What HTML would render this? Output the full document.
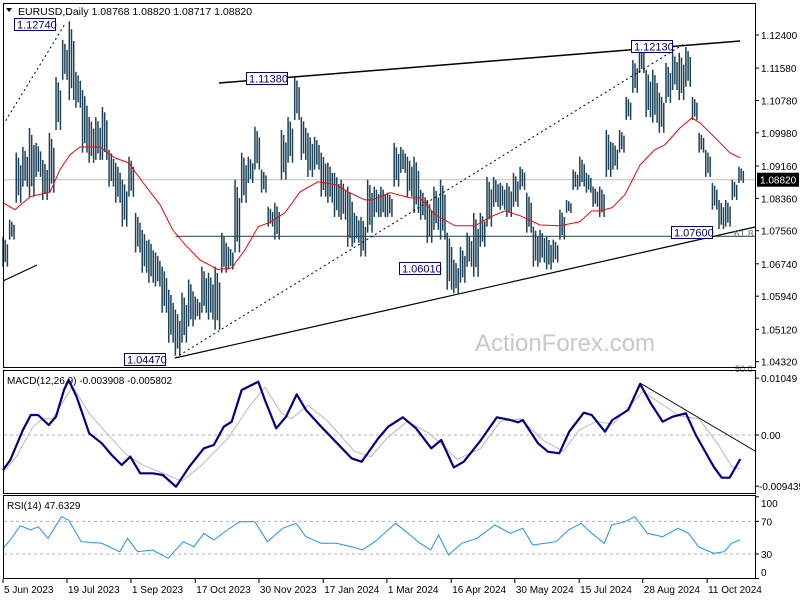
<!DOCTYPE html>
<html><head><meta charset="utf-8"><style>
html,body{margin:0;padding:0;background:#fff;}
svg{display:block;font-family:"Liberation Sans",sans-serif;}
</style></head><body>
<svg id="c" width="800" height="600" viewBox="0 0 800 600" xmlns="http://www.w3.org/2000/svg">
<rect x="0" y="0" width="800" height="600" fill="#fff"/>
<g id="main"></g>
<g id="macd"></g>
<g id="rsi"></g>
<g id="axes"></g>
</svg>
<script>
const highs=[1.0741,1.0783,1.0949,1.0963,1.1010,1.0973,1.0931,1.0998,1.1136,1.1228,1.1274,1.1149,1.1104,1.1037,1.1037,1.1062,1.0956,1.0924,1.0882,1.0939,1.0800,1.0758,1.0734,1.0702,1.0667,1.0610,1.0561,1.0603,1.0635,1.0593,1.0667,1.0652,1.0667,1.0751,1.0716,1.0882,1.0949,1.0939,1.1013,1.0907,1.0815,1.0825,1.1005,1.1037,1.1138,1.1037,1.0998,1.0988,1.0949,1.0924,1.0899,1.0882,1.0865,1.0800,1.0790,1.0882,1.0865,1.0865,1.0850,1.0973,1.0963,1.0939,1.0939,1.0857,1.0832,1.0865,1.0882,1.0751,1.0684,1.0716,1.0751,1.0800,1.0800,1.0889,1.0889,1.0874,1.0874,1.0899,1.0914,1.0850,1.0766,1.0758,1.0741,1.0734,1.0808,1.0832,1.0907,1.0939,1.0899,1.0865,1.0865,1.1005,1.0973,1.1005,1.1087,1.1178,1.1213,1.1154,1.1154,1.1097,1.1171,1.1196,1.1196,1.1210,1.1087,1.0998,1.0956,1.0874,1.0832,1.0832,1.0882,1.0914];
const lows=[1.0667,1.0734,1.0825,1.0865,1.0840,1.0889,1.0832,1.0850,1.1005,1.1129,1.1079,1.1060,1.0949,1.0924,1.0931,1.0931,1.0865,1.0825,1.0766,1.0840,1.0702,1.0652,1.0627,1.0618,1.0553,1.0479,1.0447,1.0479,1.0519,1.0536,1.0553,1.0536,1.0511,1.0652,1.0660,1.0702,1.0825,1.0874,1.0907,1.0850,1.0766,1.0734,1.0882,1.0924,1.1030,1.0931,1.0889,1.0907,1.0840,1.0825,1.0790,1.0783,1.0716,1.0726,1.0692,1.0751,1.0790,1.0790,1.0790,1.0865,1.0899,1.0840,1.0800,1.0783,1.0726,1.0758,1.0734,1.0610,1.0601,1.0627,1.0667,1.0642,1.0716,1.0766,1.0815,1.0808,1.0790,1.0815,1.0857,1.0751,1.0667,1.0677,1.0660,1.0677,1.0734,1.0800,1.0857,1.0865,1.0850,1.0815,1.0790,1.0889,1.0907,1.0949,1.1030,1.1097,1.1146,1.1037,1.1023,1.0998,1.1072,1.1104,1.1079,1.1112,1.1030,1.0949,1.0889,1.0808,1.0760,1.0766,1.0832,1.0874];
const maIdx=[0,1.8,4.1,7.1,8.6,10.1,11.6,14.6,16.9,18.9,21.4,23.7,25.6,27.5,29.7,32.4,34.5,36.5,38.5,40.3,42.5,44.8,47.5,50.1,52.3,54.6,55.7,58.4,61.4,62.9,65.2,68.2,71.2,73.5,75.7,78,81,84,87,88.8,90,91.9,93.8,96.1,98.3,99.8,102.1,103.9,105.1,107.4,109.6,111.2];
const maVal=[1.0825,1.0808,1.0840,1.0852,1.0907,1.0944,1.0963,1.0963,1.0936,1.0924,1.0869,1.0820,1.0758,1.0721,1.0684,1.0660,1.0664,1.0709,1.0766,1.0777,1.0800,1.0852,1.0877,1.0870,1.0850,1.0832,1.0832,1.0850,1.0837,1.0837,1.0795,1.0768,1.0768,1.0790,1.0805,1.0793,1.0770,1.0768,1.0778,1.0805,1.0805,1.0813,1.0845,1.0919,1.0956,1.0968,1.1010,1.1035,1.1023,1.0986,1.0949,1.0936];
const macdIdx=[0,1.1,3,4.2,5.3,6.9,8,9.2,9.9,11.1,13,14.9,16.4,17.9,19.2,20.7,22.6,24.1,26.1,28.1,30.3,31.8,33.3,34.5,36,38.5,39.5,41.2,42.7,44.3,45.7,48,50.4,52.6,54.1,56.6,58.1,60.3,62.3,64.6,66.1,68,69.5,71.9,74.5,76.5,77.7,78.4,80.7,82.2,83.9,85.4,87.6,88.8,90.8,91.9,94.3,96.1,97.7,99.5,101,103,104.5,106.2,107.2,108.4,109.6,111.2];
const macdVal=[-0.00646,-0.00461,0.00092,0.00369,0.00369,0.00185,0.00338,0.00830,0.01015,0.00707,0.00031,-0.00154,-0.00369,-0.00554,-0.00400,-0.00707,-0.00707,-0.00738,-0.00953,-0.00584,-0.00246,-0.00185,0.00154,0.00246,0.00830,0.00984,0.00646,0.00123,0.00338,0.00750,0.00461,0.00154,-0.00154,-0.00431,-0.00492,-0.00061,0.00154,0.00326,0.00123,-0.00246,-0.00092,-0.00597,-0.00492,-0.00123,0.00326,0.00277,0.00234,0.00277,-0.00154,-0.00308,-0.00338,0.00061,0.00412,0.00369,0.00061,0.00277,0.00461,0.00941,0.00584,0.00246,0.00338,0.00400,0.00000,-0.00369,-0.00584,-0.00787,-0.00787,-0.00443];
const sigIdx=[0,2,4.5,6,7.5,10.5,13,15.5,18.5,21,25,27,30,34,37,39.5,42,43.5,46,49,53,55.5,58,61,64,66,68.5,72,75,78,81.5,84.5,87,89.5,92,96.5,99,102,105,108,110,111.2];
const sigVal=[-0.0070,-0.0040,0.0015,0.0030,0.0030,0.0090,0.0040,0.0005,-0.0035,-0.0055,-0.0075,-0.0085,-0.0055,-0.0005,0.0050,0.0088,0.0040,0.0030,0.0055,0.0025,-0.0030,-0.0040,-0.0005,0.0025,0.0005,-0.0015,-0.0045,-0.0025,0.0025,0.0030,-0.0010,-0.0030,0.0010,0.0025,0.0020,0.0080,0.0060,0.0035,0.0030,-0.0020,-0.0060,-0.0062];
const rsiIdx=[0,1.1,2.6,4.2,5.3,6.8,8.8,9.9,11.8,14.9,17.6,18.8,20.3,22.6,24.9,27.2,28.8,30.3,31.8,33.8,35.7,38,39.9,42.2,44.2,45.7,48,50.3,52.6,54.2,56.1,59.2,61.1,62.6,64.5,65.7,67.2,69.2,71.5,74.2,76.5,78.4,79.9,81.8,83.4,85.3,87.2,88.8,90.7,91.8,93.8,95.3,97.2,99.5,101.8,103.4,104.9,107.2,108.8,109.9,111.1];
const rsiVal=[37.0,47.1,64.6,59.4,63.4,49.2,75.7,71.6,45.1,43.1,32.8,49.2,32.8,34.9,24.7,45.1,38.9,55.3,47.1,59.4,69.5,69.5,45.1,61.5,67.6,51.2,43.1,43.1,38.9,34.9,45.1,67.6,55.3,45.1,34.9,53.3,28.8,43.1,49.2,65.5,55.3,61.5,41.0,43.1,45.1,59.4,67.6,55.3,43.1,65.5,69.5,75.7,55.3,51.2,61.5,55.3,38.9,30.8,32.8,43.1,47.1];
const priceTicks=[1.12400,1.11580,1.10780,1.09980,1.09160,1.08360,1.07560,1.06740,1.05940,1.05120,1.04320];
const dateIdx=[0,9.65,19.3,29.0,38.6,48.3,57.9,67.6,77.2,86.9,96.5,106.2];
const dateLabels=["5 Jun 2023","19 Jul 2023","1 Sep 2023","17 Oct 2023","30 Nov 2023","17 Jan 2024","1 Mar 2024","16 Apr 2024","30 May 2024","15 Jul 2024","28 Aug 2024","11 Oct 2024"];
const rsiTicks=[100,70,30,0];

const NS="http://www.w3.org/2000/svg";
const X=i=>3+i*6.63;
const PY=p=>35+(1.124-p)*4042.7;
const MY=v=>435-v*5420;
const RY=r=>554-(r-30)*0.817;
function mk(parent,tag,attrs,txt){const e=document.createElementNS(NS,tag);for(const k in attrs)e.setAttribute(k,attrs[k]);if(txt!==undefined)e.textContent=txt;document.getElementById(parent).appendChild(e);return e;}
function poly(xs,ys,fx,fy){return xs.map((v,i)=>X(v).toFixed(1)+','+fy(ys[i]).toFixed(1)).join(' ');}

let f=mk('axes','rect',{x:3.5,y:3.5,width:752,height:364,fill:'none',stroke:'#000'});


f=mk('axes','rect',{x:3.5,y:370.5,width:752,height:123,fill:'none',stroke:'#000'});


f=mk('axes','rect',{x:3.5,y:495.5,width:752,height:83,fill:'none',stroke:'#000'});



let l=mk('main','line',{x1:4,x2:755,y1:PY(1.0882),y2:PY(1.0882),stroke:'#c0c0c0'});


l=mk('main','line',{x1:X(26),x2:755,y1:PY(1.0742),y2:PY(1.0742),stroke:'#3d5555','stroke-width':1.2});



highs.forEach((h,i)=>{
  const yh=PY(h), yl=PY(lows[i]), d=yl-yh;
  const b=mk('main','line',{x1:X(i),x2:X(i),y1:yh,y2:yl,stroke:'#1b4258','stroke-width':1.5});
  
  
  const b2=mk('main','line',{x1:X(i)+2.2,x2:X(i)+2.2,y1:yh+d*0.1,y2:yl-d*0.15,stroke:'#1b4258','stroke-width':1.5});
  
  
  const b3=mk('main','line',{x1:X(i)+4.4,x2:X(i)+4.4,y1:yh+d*0.25,y2:yl,stroke:'#1b4258','stroke-width':1.5});
  
  
});
l=mk('main','polyline',{points:poly(maIdx,maVal,X,PY),fill:'none',stroke:'#ff0000','stroke-width':1});



const tl=[[219,83,740,41,'',1.5,'resistance-trendline'],[3,281,37,265,'',1.2,'left-support-segment'],[175,358,755,227,'',1.2,'support-trendline'],[3,125,65,24,'2,3',1,'dotted-trendline-left'],[175,358,684,44,'2,3',1,'dotted-trendline']];
tl.forEach(t=>{const e=mk('main','line',{x1:t[0],y1:t[1],x2:t[2],y2:t[3],stroke:'#000','stroke-width':t[5],'stroke-dasharray':t[4]});

});

const ann=[[14,18,'1.12740'],[246,72,'1.11380'],[631,40,'1.12130'],[671,226,'1.07600'],[399,262,'1.06010'],[124,353,'1.04470']];
ann.forEach(a=>{
  const r=mk('main','rect',{x:a[0]+0.5,y:a[1]+0.5,width:41,height:12,fill:'#fff',stroke:'#000080'});
  
  
  const t=mk('main','text',{x:a[0]+3,y:a[1]+10.5,'font-size':11,fill:'#000080'},a[2]);
  
  
});
let t=mk('main','text',{x:734,y:237,'font-size':10,fill:'#607070'},'61.8');


t=mk('main','text',{x:735,y:372,'font-size':9,fill:'#607070'},'50.0');


t=mk('main','text',{x:565,y:351,'font-size':24,fill:'#c8c8c8','text-anchor':'middle'},'ActionForex.com');


t=mk('main','text',{x:18,y:15,'font-size':10.5,fill:'#000'},'EURUSD,Daily  1.08768 1.08820 1.08717 1.08820');


t=mk('main','path',{d:'M6,8 L12,8 L9,12 Z',fill:'#000'});



priceTicks.forEach(p=>{
  const k=mk('axes','line',{x1:755,x2:759,y1:PY(p),y2:PY(p),stroke:'#000'});
  
  
  const tx=mk('axes','text',{x:761,y:PY(p)+4,'font-size':10,fill:'#000'},p.toFixed(5));
  
  
});
let pb=mk('axes','rect',{x:757,y:PY(1.0882)-7,width:42,height:14,fill:'#000'});


pb=mk('axes','text',{x:760,y:PY(1.0882)+4,'font-size':10,fill:'#fff'},'1.08820');



l=mk('macd','line',{x1:4,x2:755,y1:MY(0),y2:MY(0),stroke:'#b0b0b0','stroke-dasharray':'3,3'});


l=mk('macd','polyline',{points:poly(sigIdx,sigVal,X,MY),fill:'none',stroke:'#b8b8b8','stroke-width':1});


l=mk('macd','polyline',{points:poly(macdIdx,macdVal,X,MY),fill:'none',stroke:'#00008b','stroke-width':2.2,'stroke-linejoin':'round'});


l=mk('macd','line',{x1:640,y1:383,x2:755,y2:451,stroke:'#000'});


t=mk('macd','text',{x:7,y:384,'font-size':10,fill:'#000'},'MACD(12,26,9) -0.003908 -0.005802');


[[0.01049,'0.01049'],[0,'0.00'],[-0.009435,'-0.009435']].forEach(m=>{
  const k=mk('axes','line',{x1:755,x2:759,y1:MY(m[0]),y2:MY(m[0]),stroke:'#000'});
  
  
  const tx=mk('axes','text',{x:m[0]<0?759:761,y:MY(m[0])+4,'font-size':10,fill:'#000'},m[1]);
  
  
});

[70,30].forEach(r=>{const e=mk('rsi','line',{x1:4,x2:755,y1:RY(r),y2:RY(r),stroke:'#b0b0b0','stroke-dasharray':'3,3'});

});
l=mk('rsi','polyline',{points:poly(rsiIdx,rsiVal,X,RY),fill:'none',stroke:'#1e90ff','stroke-width':1});


t=mk('rsi','text',{x:7,y:509,'font-size':10,fill:'#000'},'RSI(14) 47.6329');


rsiTicks.forEach(r=>{
  const k=mk('axes','line',{x1:755,x2:759,y1:RY(r),y2:RY(r),stroke:'#000'});
  
  
  const tx=mk('axes','text',{x:761,y:Math.min(Math.max(RY(r)+4,507),576),'font-size':10,fill:'#000'},String(r));
  
  
});

dateIdx.forEach((d,i)=>{
  const k=mk('axes','line',{x1:X(d),x2:X(d),y1:579,y2:583,stroke:'#000'});
  
  
  const tx=mk('axes','text',{x:X(d)+1,y:593,'font-size':10,fill:'#000'},dateLabels[i]);
  
  
});
</script>
</body></html>
